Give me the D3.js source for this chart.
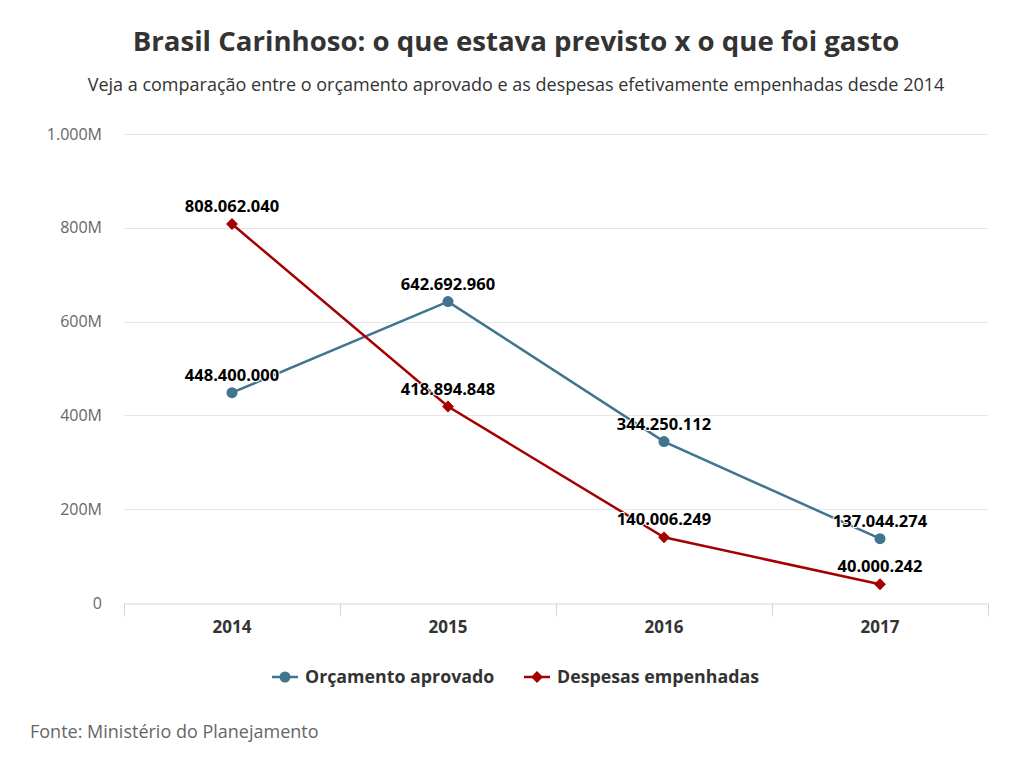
<!DOCTYPE html>
<html>
<head>
<meta charset="utf-8">
<script src="https://cdn.jsdelivr.net/npm/d3@7.9.0/dist/d3.min.js"></script>
<style>
  body { margin: 0; background: #fff; }
  svg { font-family: "Open Sans", sans-serif; display: block; }
</style>
</head>
<body>
<svg id="chart" width="1012" height="762"></svg>
<script>
// Data
const years = ['2014', '2015', '2016', '2017'];
const orcamento = [448400000, 642692960, 344250112, 137044274];
const despesas = [808062040, 418894848, 140006249, 40000242];
const yTicks = [0, 200e6, 400e6, 600e6, 800e6, 1000e6];
const seriesNames = ['Orçamento aprovado', 'Despesas empenhadas'];
const seriesColors = ['#41758f', '#a50000'];

const svg = d3.select('#chart');
const width = 1012;
const margin = { top: 134, right: 24, bottom: 159, left: 124 };
const plotBottom = 762 - margin.bottom;

// Number format: 808.062.040
const ptFormat = d3.formatLocale({ decimal: ',', thousands: '.', grouping: [3], currency: ['R$', ''] });
const fmtNum = ptFormat.format(',d');
const fmtAxis = d => d === 0 ? '0' : ptFormat.format(',d')(d / 1e6) + 'M';

const x = d3.scaleBand().domain(years).range([margin.left, width - margin.right]);
const y = d3.scaleLinear().domain([0, 1000e6]).range([plotBottom, margin.top]);
const cx = d => x(d) + x.bandwidth() / 2;

// Title & subtitle
svg.append('text')
  .attr('x', 516).attr('y', 51)
  .attr('text-anchor', 'middle')
  .attr('font-size', 27.6).attr('font-weight', 700)
  .attr('fill', '#333')
  .text('Brasil Carinhoso: o que estava previsto x o que foi gasto');

svg.append('text')
  .attr('x', 516).attr('y', 91)
  .attr('text-anchor', 'middle')
  .attr('font-size', 18).attr('fill', '#333')
  .text('Veja a comparação entre o orçamento aprovado e as despesas efetivamente empenhadas desde 2014');

// Gridlines
svg.append('g')
  .selectAll('line')
  .data(yTicks.filter(d => d > 0))
  .join('line')
  .attr('x1', margin.left).attr('x2', width - margin.right)
  .attr('y1', d => Math.round(y(d)) + 0.5).attr('y2', d => Math.round(y(d)) + 0.5)
  .attr('stroke', '#e6e6e6');

// Y axis labels
const yAxis = svg.append('g')
  .attr('transform', `translate(${margin.left},0)`)
  .call(d3.axisLeft(y).tickValues(yTicks).tickFormat(fmtAxis).tickSize(0).tickPadding(22));
yAxis.select('.domain').remove();
yAxis.selectAll('text').attr('font-size', 16).attr('fill', '#666').attr('font-family', '"Open Sans", sans-serif');

// X axis
const xAxis = svg.append('g')
  .attr('transform', `translate(0,${Math.round(plotBottom) + 0.5})`)
  .call(d3.axisBottom(x).tickSize(0).tickPadding(17));
xAxis.select('.domain').attr('stroke', '#ccd6eb');
xAxis.selectAll('text')
  .attr('font-size', 17).attr('font-weight', 700).attr('fill', '#333')
  .attr('font-family', '"Open Sans", sans-serif');
// category boundary ticks
xAxis.append('g')
  .selectAll('line')
  .data(years.map(d => x(d)).concat([x(years[years.length - 1]) + x.bandwidth()]))
  .join('line')
  .attr('x1', d => Math.round(d) + 0.5).attr('x2', d => Math.round(d) + 0.5)
  .attr('y1', 0).attr('y2', 13)
  .attr('stroke', '#ccd6eb');

const line = d3.line().x((d, i) => cx(years[i])).y(d => y(d));

const diamond = d3.symbol().type(d3.symbolDiamond2).size(90);

function drawSeries(values, color, marker) {
  const g = svg.append('g');
  g.append('path')
    .datum(values)
    .attr('d', line)
    .attr('fill', 'none')
    .attr('stroke', color)
    .attr('stroke-width', 2.5);
  if (marker === 'circle') {
    g.selectAll('circle').data(values).join('circle')
      .attr('cx', (d, i) => cx(years[i])).attr('cy', d => y(d))
      .attr('r', 5.5).attr('fill', color);
  } else {
    g.selectAll('path.m').data(values).join('path')
      .attr('class', 'm')
      .attr('d', diamond())
      .attr('transform', (d, i) => `translate(${cx(years[i])},${y(d)})`)
      .attr('fill', color);
  }
  return g;
}

drawSeries(orcamento, seriesColors[0], 'circle');
drawSeries(despesas, seriesColors[1], 'diamond');

// Data labels
function drawLabels(values) {
  svg.append('g').selectAll('text').data(values).join('text')
    .attr('x', (d, i) => cx(years[i]))
    .attr('y', d => y(d) - 12)
    .attr('text-anchor', 'middle')
    .attr('font-size', 16.5).attr('font-weight', 700)
    .attr('fill', '#000')
    .attr('stroke', '#fff').attr('stroke-width', 2).attr('stroke-linejoin', 'round')
    .attr('paint-order', 'stroke')
    .text(d => fmtNum(d));
}
drawLabels(orcamento);
drawLabels(despesas);

// Legend
const legend = svg.append('g').attr('transform', 'translate(0,677)');
const legendX = [272, 524];
seriesNames.forEach((name, i) => {
  const lg = legend.append('g').attr('transform', `translate(${legendX[i]},0)`);
  lg.append('line').attr('x1', 0).attr('x2', 26).attr('y1', 0).attr('y2', 0)
    .attr('stroke', seriesColors[i]).attr('stroke-width', 2.5);
  if (i === 0) {
    lg.append('circle').attr('cx', 13).attr('cy', 0).attr('r', 5.5).attr('fill', seriesColors[i]);
  } else {
    lg.append('path').attr('d', diamond()).attr('transform', 'translate(13,0)').attr('fill', seriesColors[i]);
  }
  lg.append('text').attr('x', 33).attr('y', 6)
    .attr('font-size', 17.8).attr('font-weight', 700).attr('fill', '#333')
    .text(name);
});

// Credits
svg.append('text')
  .attr('x', 30).attr('y', 738)
  .attr('font-size', 18).attr('fill', '#666')
  .text('Fonte: Ministério do Planejamento');
</script>
</body>
</html>
